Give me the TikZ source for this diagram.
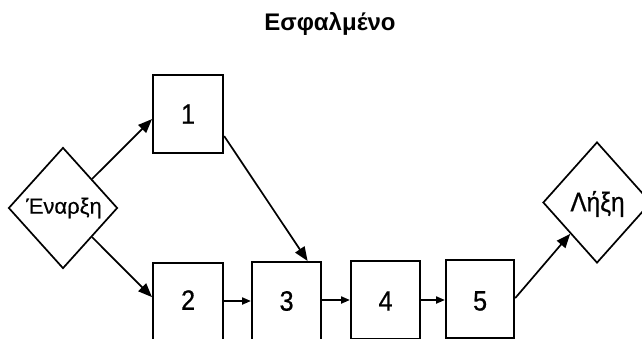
\documentclass[tikz,border=0pt]{standalone}
\usepackage{fontspec}
\setmainfont{Liberation Sans}
\newfontfamily\narrowsans[FakeStretch=0.9,FakeBold=0.6]{Liberation Sans}
\newfontfamily\labelsans[FakeBold=0.4]{Liberation Sans}
\usetikzlibrary{shapes.geometric,arrows.meta,calc}
\begin{document}
\begin{tikzpicture}[x=1pt,y=-1pt,
  boxnode/.style={draw,line width=2.2pt,minimum width=70pt,minimum height=78pt,inner sep=0pt,anchor=north west},
  dianode/.style={draw,line width=1.7pt,shape=diamond,inner sep=0pt},
  numtext/.style={font=\narrowsans\fontsize{28}{28}\selectfont},
  arr/.style={line width=1.7pt,-{Triangle[length=14pt,width=11pt]}},
  harr/.style={line width=2pt,-{Triangle[length=9pt,width=7pt]}}]
\useasboundingbox (0,0) rectangle (642,338);
\fill[white] (0,0) rectangle (642,338);
% title
\node[font=\bfseries\fontsize{24}{24}\selectfont] (title) at (330,24) {Εσφαλμένο};
% diamonds
\node[dianode,minimum width=109pt,minimum height=121pt] (start) at (63,208) {};
\node[font=\labelsans\fontsize{22}{22}\selectfont,inner sep=0pt] (starttxt) at (64,208) {Έναρξη};
\node[dianode,minimum width=108pt,minimum height=121pt] (end) at (597,202.5) {};
\node[font=\narrowsans\fontsize{27}{27}\selectfont,inner sep=0pt] (endtxt) at (597.5,204) {Λήξη};
% boxes
\node[boxnode] (b1) at (152,74) {};
\node[boxnode] (b2) at (152,262) {};
\node[boxnode,minimum width=69pt] (b3) at (251,261) {};
\node[boxnode,minimum width=69pt] (b4) at (350,260) {};
\node[boxnode,minimum width=68pt] (b5) at (445,259) {};
\node[numtext] (t1) at (b1.center) {1};
\node[numtext] (t2) at ($(b2.north)+(0,38)$) {2};
\node[numtext] (t3) at ($(b3.north)+(0,40)$) {3};
\node[numtext] (t4) at ($(b4.north)+(0,41)$) {4};
\node[numtext] (t5) at ($(b5.north)+(0,42)$) {5};
% connectors
\draw[arr] (start) -- ($(b1.west)+(0,5)$);
\draw[arr] (start) -- ($(b2.west)+(0,-5)$);
\draw[arr] ($(b1.east)+(0,22)$) -- ($(b3.north)+(21,0)$);
\draw[harr] (b2.east |- 0,301) -- (b3.west |- 0,301);
\draw[harr] (b3.east |- 0,300) -- (b4.west |- 0,300);
\draw[harr] (b4.east |- 0,300) -- (b5.west |- 0,300);
\draw[arr] ($(b5.east)+(0,-1)$) -- (end);
\end{tikzpicture}
\end{document}
